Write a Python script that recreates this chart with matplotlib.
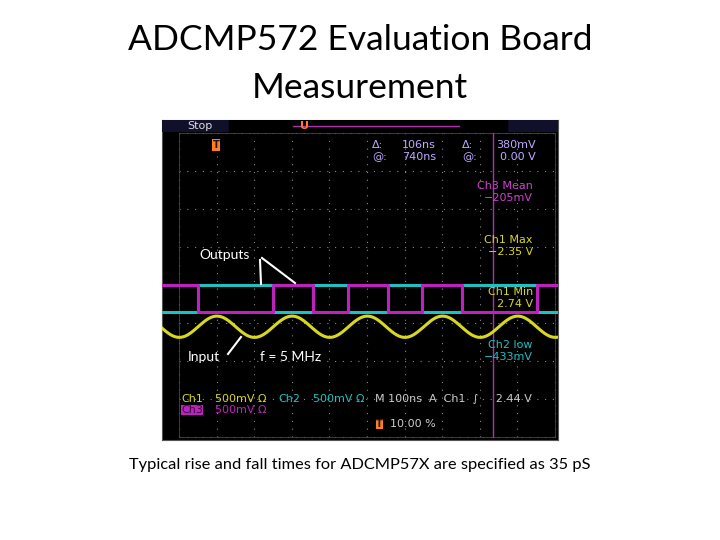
import numpy as np
import matplotlib.pyplot as plt

# scope data: time in ns, level in divisions
edges_ns = [-449, -250, -144, -51, 56, 146, 253, 452]
high_div = 0.0
low_div = -0.72
sine_center = -1.1
sine_amp = 0.28
sine_peak_ns = -399
sine_period_ns = 200
cursor_ns = 336

fig = plt.figure(figsize=(7.2, 5.4), dpi=100)
fig.patch.set_facecolor('white')


def px(x, y):
    return x / 720, 1 - y / 540


fig.text(*px(360, 40), 'ADCMP572 Evaluation Board', ha='center', va='center',
         fontsize=25.5, family='Lato')
fig.text(*px(360, 88), 'Measurement', ha='center', va='center',
         fontsize=25.5, family='Lato')
fig.text(*px(360, 465), 'Typical rise and fall times for ADCMP57X are specified as 35 pS',
         ha='center', va='center', fontsize=11.8, family='Lato')

ax = fig.add_axes([162 / 720, 1 - 440 / 540, 396 / 720, 320 / 540])
ax.set_facecolor('black')
ax.set_xlim(-545, 508)
ax.set_ylim(-4.08, 4.34)
ax.set_xticks([])
ax.set_yticks([])
for s in ax.spines.values():
    s.set_color('#555555')

# dotted grid
for gx in np.arange(-500, 501, 100):
    ax.plot([gx, gx], [-4, 4], color='#8a8a8a', lw=0.8,
            ls=(0, (1, 6)), zorder=1)
for gy in np.arange(-4, 5, 1):
    ax.plot([-500, 500], [gy, gy], color='#8a8a8a', lw=0.8,
            ls=(0, (1, 6)), zorder=1)
ax.plot([-500, 500, 500, -500, -500], [-4, -4, 4, 4, -4], color='#444444', lw=0.6, zorder=1)

# square outputs
t = [-545] + edges_ns + [508]
mag_x, mag_y, cy_x, cy_y = [], [], [], []
for i in range(len(t) - 1):
    m = high_div if i % 2 == 0 else low_div
    c = low_div if i % 2 == 0 else high_div
    mag_x += [t[i], t[i + 1]]
    mag_y += [m, m]
    cy_x += [t[i], t[i + 1]]
    cy_y += [c, c]
ax.plot(cy_x, cy_y, color='#20c0c0', lw=2.2, zorder=3)
ax.plot(mag_x, mag_y, color='#c020c0', lw=2.2, zorder=3)

# sine input
ts = np.linspace(-545, 508, 800)
ax.plot(ts, sine_center + sine_amp * np.cos(2 * np.pi * (ts - sine_peak_ns) / sine_period_ns),
        color='#d8d820', lw=2.2, zorder=3)

# cursor
ax.plot([cursor_ns, cursor_ns], [-4, 4], color='#b030b0', lw=1, zorder=2)

# status bar
bar = fig.add_axes([162 / 720, 1 - 132 / 540, 396 / 720, 12 / 540])
bar.set_facecolor('#10102a')
bar.set_xticks([])
bar.set_yticks([])
for s in bar.spines.values():
    s.set_visible(False)
bar.set_xlim(0, 1)
bar.set_ylim(0, 1)
bar.axvspan(0.17, 0.87, color='black')
bar.plot([0.33, 0.75], [0.5, 0.5], color='#b030b0', lw=1)
fig.text(*px(187, 126), 'Stop', color='#dddddd', fontsize=8, va='center')
fig.text(*px(300, 126), 'U', color='#ff8020', fontsize=8, va='center', weight='bold')

fig.text(*px(216, 145), 'T', color='#301010', fontsize=7, weight='bold', ha='center',
         va='center', bbox=dict(fc='#ff8020', ec='none', pad=0.5))
lav = '#c0a8ff'
fig.text(*px(372, 145), 'Δ:', color=lav, fontsize=8, va='center')
fig.text(*px(372, 157), '@:', color=lav, fontsize=8, va='center')
fig.text(*px(402, 145), '106ns', color=lav, fontsize=8, va='center')
fig.text(*px(402, 157), '740ns', color=lav, fontsize=8, va='center')
fig.text(*px(462, 145), 'Δ:', color=lav, fontsize=8, va='center')
fig.text(*px(462, 157), '@:', color=lav, fontsize=8, va='center')
fig.text(*px(536, 145), '380mV', color=lav, fontsize=8, va='center', ha='right')
fig.text(*px(536, 157), '0.00 V', color=lav, fontsize=8, va='center', ha='right')

for y, s, c in [(186, 'Ch3 Mean', '#d040d0'), (198, '−205mV', '#d040d0'),
                (240, 'Ch1 Max', '#d8d820'), (252, '−2.35 V', '#d8d820'),
                (292, 'Ch1 Min', '#d8d820'), (304, '2.74 V', '#d8d820'),
                (345, 'Ch2 low', '#20c0c0'), (357, '−433mV', '#20c0c0')]:
    fig.text(*px(533, y), s, color=c, fontsize=8, va='center', ha='right')

fig.text(*px(181, 399), 'Ch1', color='#d8d820', fontsize=8, va='center')
fig.text(*px(215, 399), '500mV Ω', color='#d8d820', fontsize=8, va='center')
fig.text(*px(278, 399), 'Ch2', color='#20c0c0', fontsize=8, va='center')
fig.text(*px(313, 399), '500mV Ω', color='#20c0c0', fontsize=8, va='center')
fig.text(*px(375, 399), 'M 100ns  A  Ch1  ∫     2.44 V', color='#cccccc', fontsize=8, va='center')
fig.text(*px(181, 410), 'Ch3', color='#301030', fontsize=8, va='center',
         bbox=dict(fc='#c020c0', ec='none', pad=0.3))
fig.text(*px(215, 410), '500mV Ω', color='#c020c0', fontsize=8, va='center')
fig.text(*px(376, 424), 'T', color='#301010', fontsize=7, va='center', weight='bold',
         bbox=dict(fc='#ff8020', ec='none', pad=0.3))
fig.text(*px(390, 424), '10.00 %', color='#cccccc', fontsize=8, va='center')

# annotations
fig.text(*px(199, 255), 'Outputs', color='white', fontsize=10, va='center', family='Lato')
fig.text(*px(188, 357), 'Input', color='white', fontsize=10, va='center', family='Lato')
fig.text(*px(260, 357), 'f = 5 MHz', color='white', fontsize=10, va='center', family='Lato')
for (x0, y0), (x1, y1) in [((260, 260), (261, 284)), ((262, 258), (295, 283)),
                           ((228, 354), (241, 337))]:
    fig.add_artist(plt.Line2D([x0 / 720, x1 / 720], [1 - y0 / 540, 1 - y1 / 540],
                              color='white', lw=1.5))

fig.savefig('out.png', dpi=100, facecolor='white')
